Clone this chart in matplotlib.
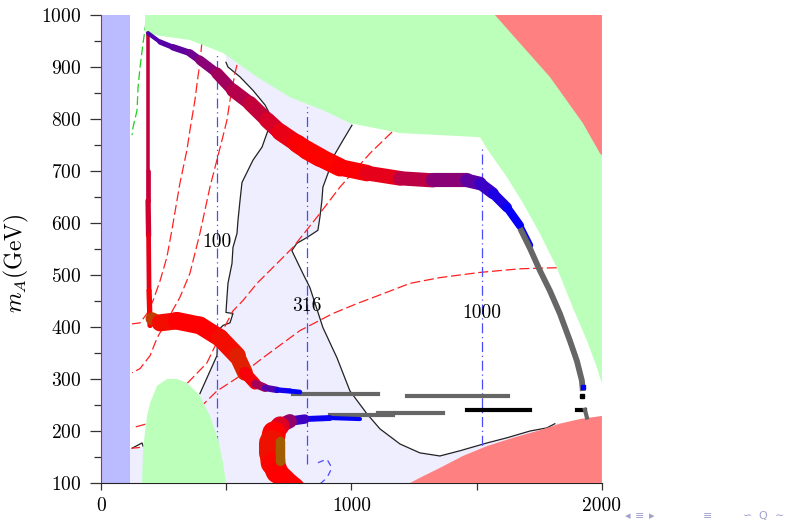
import numpy as np
import matplotlib
matplotlib.use("Agg")
import matplotlib.pyplot as plt
from matplotlib.collections import LineCollection
from matplotlib.colors import LinearSegmentedColormap
from matplotlib.ticker import MultipleLocator

plt.rcParams['font.family'] = 'serif'
plt.rcParams['font.serif'] = ['cmr10']
plt.rcParams['mathtext.fontset'] = 'cm'
plt.rcParams['axes.formatter.use_mathtext'] = True

# ---- shaded regions (x in GeV, m_A in GeV) ----
strip_x = [4, 116]

green_x = [176, 176, 236, 355, 487, 623, 754, 886, 994, 1194, 1513, 1545, 1621,
           1685, 1752, 1820, 1884, 1940, 1980, 2000, 2000]
green_y = [1000, 965, 960, 952, 927, 881, 842, 817, 792, 773, 765, 740, 688,
           638, 580, 514, 437, 374, 322, 291, 1000]

blob_x = [164, 168, 184, 196, 224, 263, 303, 343, 395, 435, 467, 487, 499]
blob_y = [100, 166, 229, 254, 287, 300, 300, 293, 268, 229, 185, 139, 100]

red_top_x = [1573, 1661, 1792, 1924, 1992, 2000, 2000]
red_top_y = [1000, 952, 881, 792, 734, 730, 1000]

red_bot_x = [1234, 1273, 1353, 1445, 1541, 1645, 1741, 1832, 1912, 2000, 2000]
red_bot_y = [100, 110, 129, 152, 171, 187, 200, 214, 223, 229, 100]

# ---- black contours ----
lc_x = [499, 507, 555, 607, 655, 683, 663, 643, 607, 563, 555, 547, 543, 527,
        523, 507, 503, 499, 527, 515, 487, 467, 463, 395]
lc_y = [909, 900, 881, 855, 827, 801, 773, 746, 721, 678, 643, 605, 580, 553,
        522, 484, 457, 428, 426, 408, 403, 393, 345, 272]

rc_x = [1002, 966, 926, 906, 886, 882, 874, 866, 822, 782, 762, 806, 834, 886,
        942, 994, 1062, 1114, 1194, 1273, 1353, 1433, 1541, 1621, 1713, 1780, 1812]
rc_y = [788, 759, 726, 695, 669, 643, 611, 586, 572, 561, 547, 503, 476, 399,
        341, 277, 233, 204, 175, 158, 152, 162, 177, 187, 200, 206, 214]

hook_x = [124, 164, 168]
hook_y = [167, 177, 171]

# ---- dashed contours ----
green_dash_x = [180, 168, 156, 148, 144, 128, 124]
green_dash_y = [987, 946, 900, 861, 817, 784, 769]

red1_x = [403, 395, 387, 375, 355, 343, 315, 283, 263, 236, 208, 184, 156, 124]
red1_y = [948, 907, 881, 836, 778, 740, 676, 586, 534, 489, 451, 426, 408, 406]

red2_x = [543, 535, 515, 503, 483, 435, 395, 355, 315, 263, 224, 196, 156, 124]
red2_y = [904, 888, 836, 798, 759, 669, 580, 503, 457, 412, 379, 345, 320, 312]

red3_x = [1162, 1074, 954, 862, 766, 727, 623, 567, 527, 475, 423, 343, 255, 184, 124]
red3_y = [775, 734, 669, 611, 553, 534, 484, 451, 431, 383, 331, 291, 248, 214, 206]

red4_x = [1820, 1673, 1513, 1353, 1234, 1126, 1022, 926, 794, 647, 543, 463, 395,
          315, 236, 168, 124]
red4_y = [514, 512, 505, 495, 484, 464, 445, 426, 393, 341, 302, 277, 245,
          210, 181, 169, 167]

# vertical dash-dot lines and their labels
vline_x = [463, 822, 1521]
vline_top = [927, 823, 749]
vline_bot = [100, 137, 137]
vline_lab = ['100', '316', '1000']
vlab_y = [564, 441, 426]

arc_x = [866, 902, 922, 902, 874]
arc_y = [139, 146, 129, 110, 98]

# ---- thick band: position, colour value t, relative width w ----
stem_x = [188, 188, 188, 190, 192, 196]
stem_y = [965, 700, 643, 576, 470, 403]
stem_t = [0.62, 0.62, 0.60, 0.58, 0.52, 0.50]
stem_w = [3, 3, 5, 4, 4, 5]

top_x = [188, 236, 287, 355, 395, 463, 527, 595, 663, 715, 782, 822, 874, 954,
         1062, 1194, 1325, 1461, 1513, 1565, 1621, 1673, 1713]
top_y = [965, 948, 938, 927, 913, 888, 855, 830, 798, 775, 753, 740, 726, 707,
         696, 686, 682, 682, 676, 657, 630, 595, 557]
top_t = [0.85, 0.83, 0.82, 0.80, 0.76, 0.70, 0.66, 0.63, 0.60, 0.56, 0.52, 0.50,
         0.49, 0.50, 0.52, 0.58, 0.68, 0.78, 0.85, 0.92, 0.97, 1.0, 1.0]
top_w = [3, 4, 5, 6, 7, 9, 11, 12, 13, 14, 15, 16, 16, 15, 13, 12, 12, 12, 11,
         9, 8, 6, 5]

hump_x = [204, 236, 303, 395, 475, 543, 575, 615, 655, 703, 754, 794]
hump_y = [416, 408, 412, 403, 379, 345, 312, 291, 283, 279, 277, 275]
hump_t = [0.30, 0.45, 0.50, 0.50, 0.50, 0.45, 0.43, 0.60, 0.75, 0.92, 1.0, 1.0]
hump_w = [8, 14, 15, 15, 15, 15, 12, 8, 6, 5, 4, 4]

cup_x = [1034, 914, 814, 754, 715, 691, 683, 683, 687, 703, 735, 775]
cup_y = [223, 225, 223, 219, 210, 196, 177, 158, 139, 121, 106, 90]
cup_t = [1.0, 1.0, 0.95, 0.80, 0.62, 0.52, 0.48, 0.45, 0.48, 0.50, 0.50, 0.50]
cup_w = [3, 4, 6, 10, 14, 18, 22, 22, 20, 18, 17, 17]

core_x = [713, 713]
core_y = [181, 142]
core_t = [0.32, 0.32]
core_w = [8, 8]

grey_x = [1673, 1713, 1752, 1792, 1832, 1872, 1900, 1920, 1924]
grey_y = [590, 551, 509, 470, 426, 374, 335, 297, 277]

# flat grey / black point rows: (x start, x end, m_A)
grey_rows = [(766, 1106, 271), (1222, 1625, 268), (914, 1166, 231), (1106, 1365, 235)]
black_rows = [(1461, 1713, 241), (1900, 1932, 241)]

band_cmap = LinearSegmentedColormap.from_list(
    'band', [(0.0, '#00ff00'), (0.5, '#ff0000'), (1.0, '#0000ff')])
W = 0.85  # width units -> points


def draw_band(ax, x, y, t, w):
    pts = np.column_stack([x, y])
    segs = np.stack([pts[:-1], pts[1:]], axis=1)
    w = np.asarray(w, float)
    t = np.asarray(t, float)
    lc = LineCollection(segs, cmap=band_cmap, norm=plt.Normalize(0, 1),
                        linewidths=W * (w[:-1] + w[1:]) / 2,
                        capstyle='round', joinstyle='round', zorder=6)
    lc.set_array((t[:-1] + t[1:]) / 2)
    ax.add_collection(lc)


fig = plt.figure(figsize=(7.92, 5.21), dpi=100)
ax = fig.add_axes([0.1275, 0.0729, 0.6325, 0.8983])

# allowed band between the two black contours
lav_x = lc_x + [168, 124, 116, 116, 2000, 2000] + rc_x[::-1] + [1002, 505]
lav_y = lc_y + [171, 167, 167, 100, 100, 229] + rc_y[::-1] + [1000, 1000]
ax.fill(lav_x, lav_y, color='#eeeeff', lw=0, zorder=1)

ax.axvspan(strip_x[0], strip_x[1], color='#bbbbff', lw=0, zorder=2)

# contour lines
ax.plot(lc_x, lc_y, color='#222222', lw=0.9, zorder=3)
ax.plot(rc_x, rc_y, color='#222222', lw=0.9, zorder=3)
ax.plot(hook_x, hook_y, color='#222222', lw=0.9, zorder=3)
for xs, ys in [(red1_x, red1_y), (red2_x, red2_y), (red3_x, red3_y), (red4_x, red4_y)]:
    ax.plot(xs, ys, color='#ff2020', lw=0.9, dashes=(8, 3), zorder=3)
ax.plot(green_dash_x, green_dash_y, color='#20d020', lw=0.9, dashes=(7, 3), zorder=3)
for vx, top, bot in zip(vline_x, vline_top, vline_bot):
    ax.plot([vx, vx], [bot, top], color='#4a4aff', lw=0.9,
            dashes=(8, 3, 1, 3), zorder=3)
ax.plot(arc_x, arc_y, color='#4a4aff', lw=0.9, dashes=(5, 4), zorder=3)

# excluded regions
ax.fill(green_x, green_y, color='#bbffbb', lw=0, zorder=4)
ax.fill(blob_x, blob_y, color='#bbffbb', lw=0, zorder=4)
ax.fill(red_top_x, red_top_y, color='#ff8080', lw=0, zorder=4)
ax.fill(red_bot_x, red_bot_y, color='#ff8080', lw=0, zorder=4)

# thick band
for x, y, t, w in [(stem_x, stem_y, stem_t, stem_w), (top_x, top_y, top_t, top_w),
                   (hump_x, hump_y, hump_t, hump_w), (cup_x, cup_y, cup_t, cup_w),
                   (core_x, core_y, core_t, core_w)]:
    draw_band(ax, x, y, t, w)
ax.plot(grey_x, grey_y, color='#666666', lw=4.2, solid_capstyle='butt', zorder=6)
ax.plot([1924], [285], 's', color='#0000ff', ms=3, zorder=7)
ax.plot([1920], [268], 's', color='black', ms=3, zorder=7)
for x0, x1, m in grey_rows:
    ax.plot([x0, x1], [m, m], color='#666666', lw=3, zorder=5)
for x0, x1, m in black_rows:
    ax.plot([x0, x1], [m, m], color='black', lw=3, zorder=5)
ax.plot([1932, 1940], [241, 226], color='#666666', lw=3, zorder=5)

for vx, lab, ly in zip(vline_x, vline_lab, vlab_y):
    ax.text(vx, ly, lab, ha='center', va='center', fontsize=14, zorder=8)

ax.set_xlim(0, 2000)
ax.set_ylim(100, 1000)
ax.set_xticks([0, 500, 1000, 1500, 2000])
ax.set_xticklabels(['0', '', '1000', '', '2000'])
ax.set_yticks(np.arange(100, 1001, 100))
ax.yaxis.set_minor_locator(MultipleLocator(50))
ax.tick_params(axis='both', which='both', direction='out', color='#333333',
               labelsize=14, width=0.9)
ax.tick_params(axis='y', which='major', length=8, pad=6)
ax.tick_params(axis='y', which='minor', length=5)
ax.tick_params(axis='x', which='major', length=5, pad=5)
ax.spines['top'].set_visible(False)
ax.spines['right'].set_visible(False)
ax.spines['left'].set_color('#b03030')
ax.spines['bottom'].set_color('#222222')
ax.set_ylabel(r'$m_A$(GeV)', fontsize=17)
ax.yaxis.set_label_coords(-0.14, 0.47)

# beamer navigation symbols
nav = [('◂', 628), ('≡', 640), ('▸', 652), ('≡', 708), ('∽', 748), ('Q', 763), ('∼', 779)]
for sym, px in nav:
    fig.text(px / 792, 1 - 516 / 521, sym, fontsize=8, color='#a0a0cc',
             ha='center', va='center', family=['DejaVu Sans'])

fig.savefig('out.png', dpi=100)
